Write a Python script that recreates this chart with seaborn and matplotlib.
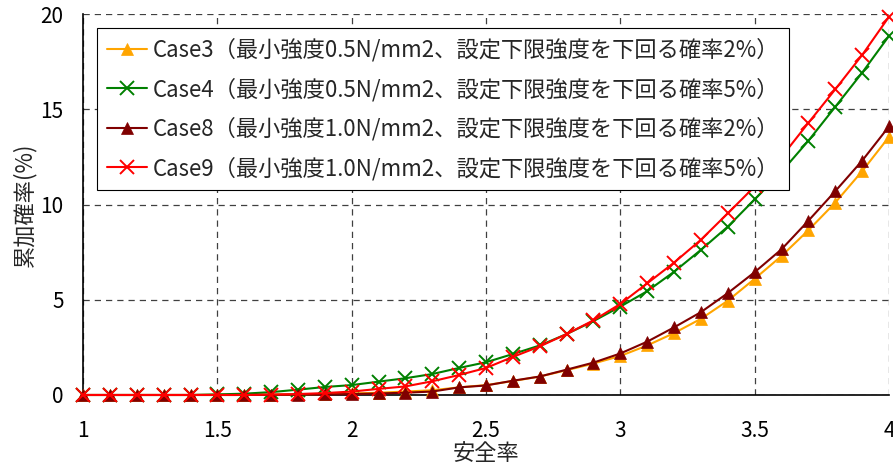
import numpy as np
import pandas as pd
import matplotlib
matplotlib.use("Agg")
import matplotlib.pyplot as plt
import seaborn as sns

safety = [round(1.0 + 0.1 * i, 1) for i in range(31)]

case3 = [0, 0, 0, 0, 0, 0.01, 0.01, 0.02, 0.03, 0.05,
         0.08, 0.12, 0.18, 0.25, 0.40, 0.52, 0.73, 0.97, 1.30, 1.65,
         2.05, 2.60, 3.25, 4.00, 4.95, 6.10, 7.30, 8.65, 10.10, 11.75, 13.55]
case4 = [0, 0, 0, 0, 0, 0.03, 0.07, 0.15, 0.28, 0.42,
         0.52, 0.70, 0.88, 1.10, 1.42, 1.72, 2.15, 2.60, 3.20, 3.88,
         4.64, 5.45, 6.47, 7.62, 8.84, 10.27, 11.72, 13.35, 15.13, 16.92, 18.85]
case8 = [0, 0, 0, 0, 0, 0, 0, 0.01, 0.02, 0.03,
         0.05, 0.08, 0.12, 0.18, 0.40, 0.50, 0.75, 0.97, 1.33, 1.70,
         2.18, 2.80, 3.55, 4.35, 5.35, 6.45, 7.65, 9.15, 10.70, 12.30, 14.10]
case9 = [0, 0, 0, 0, 0, 0, 0, 0.02, 0.05, 0.10,
         0.18, 0.32, 0.45, 0.72, 1.05, 1.42, 2.00, 2.55, 3.20, 3.92,
         4.78, 5.86, 6.95, 8.15, 9.54, 10.95, 12.50, 14.29, 16.05, 17.85, 19.86]

labels = [
    "Case3（最小強度0.5N/mm2、設定下限強度を下回る確率2%）",
    "Case4（最小強度0.5N/mm2、設定下限強度を下回る確率5%）",
    "Case8（最小強度1.0N/mm2、設定下限強度を下回る確率2%）",
    "Case9（最小強度1.0N/mm2、設定下限強度を下回る確率5%）",
]
colors = ["#FFA500", "#008000", "#800000", "#FF0000"]
markers = ["^", "x", "^", "x"]
x_ticks = [1, 1.5, 2, 2.5, 3, 3.5, 4]
y_ticks = [0, 5, 10, 15, 20]

sns.set_theme(style="white")
plt.rcParams['font.family'] = ['Noto Sans CJK JP', 'DejaVu Sans']

fig = plt.figure(figsize=(8.93, 4.70), dpi=100)
ax = fig.add_axes([0.093, 0.1596, 0.9025, 0.8104])

series = [case3, case4, case8, case9]
for vals, lab, col, mk in zip(series, labels, colors, markers):
    df = pd.DataFrame({"安全率": safety, "累加確率": vals})
    if mk == "^":
        kw = dict(markersize=8, markeredgecolor=col, markerfacecolor=col, markeredgewidth=0.5)
    else:
        kw = dict(markersize=10, markeredgecolor=col, markeredgewidth=1.4)
    sns.lineplot(data=df, x="安全率", y="累加確率", ax=ax, color=col, marker=mk,
                 linewidth=1.5, label=lab, clip_on=False, zorder=3, **kw)

ax.set_xlim(1, 4)
ax.set_ylim(0, 20)
ax.set_xticks(x_ticks)
ax.set_xticklabels([str(t) for t in x_ticks])
ax.set_yticks(y_ticks)
ax.grid(True, color="black", linestyle=(0, (5, 4)), linewidth=0.9, alpha=0.75)
ax.set_axisbelow(True)
for s in ["top", "right"]:
    ax.spines[s].set_visible(False)
for s in ["left", "bottom"]:
    ax.spines[s].set_color("black")
    ax.spines[s].set_linewidth(1.2)
ax.tick_params(axis="both", direction="in", length=5, labelsize=15, colors="black")
ax.tick_params(axis="x", pad=18)
ax.tick_params(axis="y", pad=14)
ax.set_xlabel("安全率", fontsize=16, labelpad=0)
ax.set_ylabel("累加確率(%)", fontsize=16, labelpad=3)

leg = ax.legend(loc="upper left", bbox_to_anchor=(0.0174, 0.963), fontsize=16,
                frameon=True, fancybox=False, edgecolor="black", framealpha=1,
                labelspacing=0.72, handlelength=1.8, borderpad=0.45, handletextpad=0.25,
                borderaxespad=0)
leg.get_frame().set_linewidth(0.8)
leg.set_zorder(5)

fig.savefig("out.png", dpi=100)
